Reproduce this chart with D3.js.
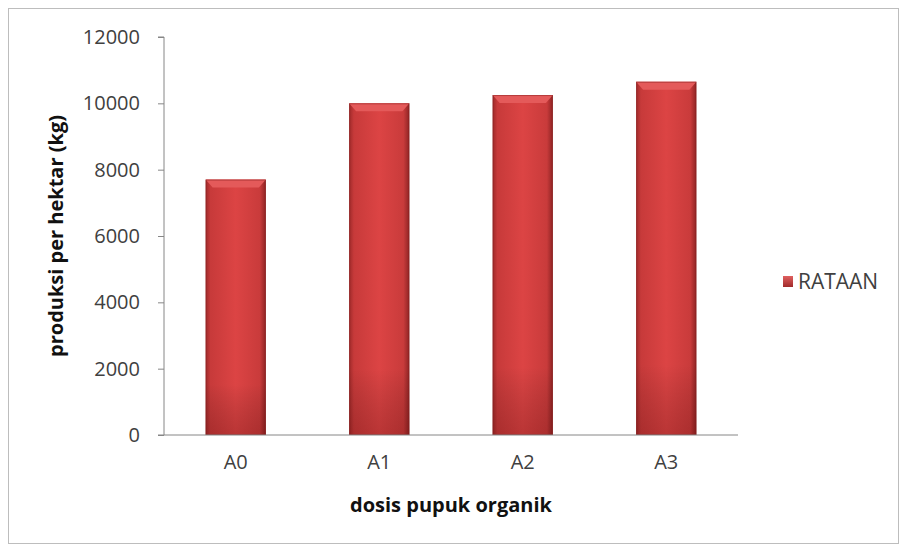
<!DOCTYPE html>
<html><head><meta charset="utf-8">
<script src="https://cdn.jsdelivr.net/npm/d3@7"></script>
<style>body{margin:0;background:#fff}svg{display:block;font-family:"Open Sans","Noto Sans",sans-serif}</style>
</head><body><svg id="c" width="901" height="548"></svg>
<script>
const categories = ["A0","A1","A2","A3"];
const values = [7700, 10000, 10250, 10650];
const yTicks = [0,2000,4000,6000,8000,10000,12000];
const seriesName = "RATAAN";
const xTitle = "dosis pupuk organik";
const yTitle = "produksi per hektar (kg)";

const svg = d3.select("#c");
const m = {l:164, r:738, t:37, b:435};
const x = d3.scaleBand().domain(categories).range([m.l, m.r]).paddingInner(0.58).paddingOuter(0.29);
const y = d3.scaleLinear().domain([0,12000]).range([m.b, m.t]);

const defs = svg.append("defs");
const g1 = defs.append("linearGradient").attr("id","hg").attr("x1","0").attr("x2","1").attr("y1","0").attr("y2","0");
[[0,"#9e2a2a"],[0.08,"#c73a3a"],[0.5,"#dc4444"],[0.9,"#c93b3b"],[1,"#8e2424"]].forEach(s=>g1.append("stop").attr("offset",s[0]).attr("stop-color",s[1]));
const g2 = defs.append("linearGradient").attr("id","vg").attr("x1","0").attr("x2","0").attr("y1","0").attr("y2","1");
[[0,"#000",0],[0.8,"#000",0],[1,"#400",0.22]].forEach(s=>g2.append("stop").attr("offset",s[0]).attr("stop-color",s[1]).attr("stop-opacity",s[2]));
const g3 = defs.append("linearGradient").attr("id","lg").attr("x1","0").attr("x2","0").attr("y1","0").attr("y2","1");
[[0,"#e06060"],[1,"#a02a2a"]].forEach(s=>g3.append("stop").attr("offset",s[0]).attr("stop-color",s[1]));

// outer border
svg.append("rect").attr("x",8.5).attr("y",8.5).attr("width",890).attr("height",535).attr("fill","none").attr("stroke","#bdbdbd");

// y axis
const ya = svg.append("g").attr("transform",`translate(${m.l},0)`).call(d3.axisLeft(y).tickValues(yTicks).tickSize(6).tickPadding(18).tickFormat(d3.format("d")));
ya.select(".domain").attr("stroke","#868686").attr("d",`M-6,${m.t}H0V${m.b}H-6`);
ya.selectAll(".tick line").attr("stroke","#868686");
ya.selectAll(".tick text").attr("font-size",20).attr("fill","#404040").attr("font-family","'Open Sans',sans-serif");

// bars
const bars = svg.append("g");
categories.forEach((c,i)=>{
  const bx = x(c), bw = x.bandwidth(), by = y(values[i]), bh = y(0)-y(values[i]);
  bars.append("rect").attr("x",bx).attr("y",by).attr("width",bw).attr("height",bh).attr("fill","url(#hg)");
  bars.append("rect").attr("x",bx).attr("y",by).attr("width",bw).attr("height",bh).attr("fill","url(#vg)");
  bars.append("path").attr("d",`M${bx},${by}H${bx+bw}L${bx+bw-7},${by+8}H${bx+7}Z`).attr("fill","#e45a5a");
  bars.append("rect").attr("x",bx+0.5).attr("y",by+0.5).attr("width",bw-1).attr("height",bh-1).attr("fill","none").attr("stroke","#8a2020").attr("stroke-opacity",0.5);
});

// x axis
const xa = svg.append("g").attr("transform",`translate(0,${m.b})`).call(d3.axisBottom(x).tickSize(0).tickPadding(20));
xa.select(".domain").attr("stroke","#868686").attr("d",`M${m.l},0H${m.r}`);
xa.selectAll(".tick text").attr("font-size",20).attr("fill","#404040").attr("font-family","'Open Sans',sans-serif");

// titles
svg.append("text").attr("x",(m.l+m.r)/2).attr("y",512).attr("text-anchor","middle").attr("font-weight","bold").attr("font-size",20).attr("fill","#111").text(xTitle);
svg.append("text").attr("transform",`translate(63,${(m.t+m.b)/2}) rotate(-90)`).attr("text-anchor","middle").attr("font-weight","bold").attr("font-size",20).attr("fill","#111").text(yTitle);

// legend
svg.append("rect").attr("x",783).attr("y",276).attr("width",10).attr("height",11).attr("fill","url(#lg)");
svg.append("text").attr("x",798).attr("y",289).attr("font-size",21).attr("fill","#404040").text(seriesName);
</script></body></html>
